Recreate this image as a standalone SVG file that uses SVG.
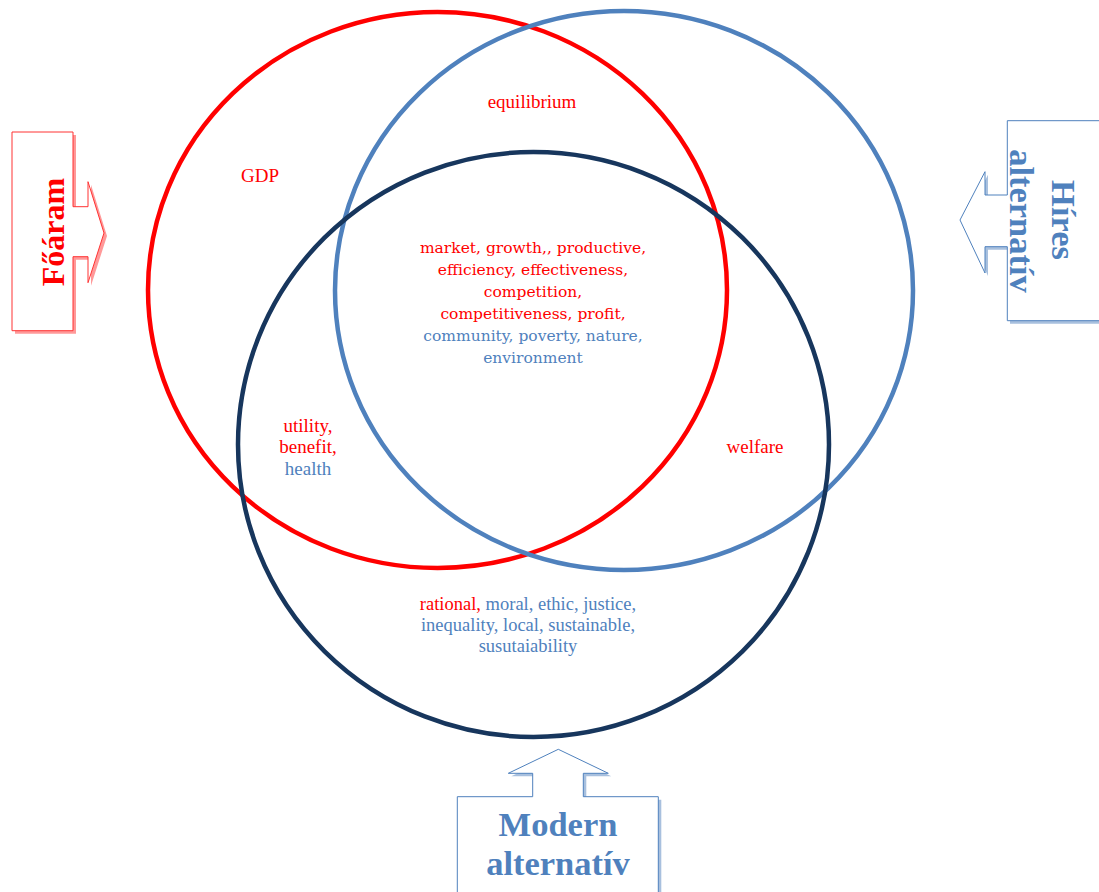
<svg xmlns="http://www.w3.org/2000/svg" width="1099" height="892" viewBox="0 0 1099 892">
<style>
.c{fill:none;stroke-width:4.5}
.t{font-family:"Liberation Serif","Times New Roman",serif;font-size:19px;text-anchor:middle}
.s{font-size:18.5px}
.m{font-family:"DejaVu Serif",Cambria,serif;font-size:15.5px;text-anchor:middle}
.r{fill:#ff0000}
.b{fill:#4f81bd}
.big{font-family:"Liberation Serif","Times New Roman",serif;font-weight:bold;font-size:32px;text-anchor:middle}
.bl{font-size:34.5px}
</style>
<rect width="1099" height="892" fill="#ffffff"/>
<g id="circles">
<ellipse id="red-circle" class="c" cx="437.5" cy="290" rx="289.5" ry="278" stroke="#ff0000"/>
<ellipse id="blue-circle" class="c" cx="624" cy="290.5" rx="289" ry="279.5" stroke="#4f81bd"/>
<ellipse id="navy-circle" class="c" cx="533.5" cy="444.5" rx="295.5" ry="292.5" stroke="#17365d"/>
</g>
<g id="left-callout">
<path d="M15,135 H76 V209.7 H91 V184.7 L107,236 L91,285.7 V259.7 H76 V333.7 H15 Z" fill="#ff9999" stroke="none"/>
<path d="M12,132 H73 V206.7 H88 V181.7 L104,233 L88,282.7 V256.7 H73 V330.7 H12 Z" fill="#ffffff" stroke="#ff3333" stroke-width="1"/>
<text class="big r" transform="translate(64,232) rotate(-90)">Főáram</text>
</g>
<g id="right-callout">
<path d="M1010,123.7 H1102 V323.7 H1010 V249.7 H988 V276 L963,223 L988,174.7 V198 H1010 Z" fill="#a8c0de" stroke="none"/>
<path d="M1007.3,120.7 H1102 V320.7 H1007.3 V246.7 H985 V273 L960,220 L985,171.7 V195 H1007.3 Z" fill="#ffffff" stroke="#4f81bd" stroke-width="1"/>
<text class="big bl b" transform="translate(1052,220) rotate(90)">Híres</text>
<text class="big bl b" transform="translate(1010,221) rotate(90)">alternatív</text>
</g>
<g id="bottom-callout">
<path d="M460.3,799.7 H535.7 V776.3 H511.3 L561.3,752.3 L611.3,776.3 H586.3 V799.7 H661.3 V895 H460.3 Z" fill="#a8c0de" stroke="none"/>
<path d="M457.3,796.7 H532.7 V773.3 H508.3 L558.3,749.3 L608.3,773.3 H583.3 V796.7 H658.3 V895 H457.3 Z" fill="#ffffff" stroke="#4f81bd" stroke-width="1"/>
<text class="big bl b" x="558" y="836">Modern</text>
<text class="big bl b" x="558" y="875">alternatív</text>
</g>
<g id="labels">
<text class="t r" x="532" y="108">equilibrium</text>
<text class="t r" x="260" y="182">GDP</text>
<text class="t r" x="755" y="453">welfare</text>
<text class="t r" x="308" y="432">utility,</text>
<text class="t r" x="308" y="453">benefit,</text>
<text class="t b" x="308" y="475">health</text>
<text class="m r" x="533" y="253">market, growth,, productive,</text>
<text class="m r" x="533" y="275">efficiency, effectiveness,</text>
<text class="m r" x="533" y="297">competition,</text>
<text class="m r" x="533" y="319">competitiveness, profit,</text>
<text class="m b" x="533" y="341">community, poverty, nature,</text>
<text class="m b" x="533" y="363">environment</text>
<text class="t s b" x="528" y="610"><tspan class="r">rational,</tspan> moral, ethic, justice,</text>
<text class="t s b" x="528" y="631">inequality, local, sustainable,</text>
<text class="t s b" x="528" y="652">susutaiability</text>
</g>
</svg>
